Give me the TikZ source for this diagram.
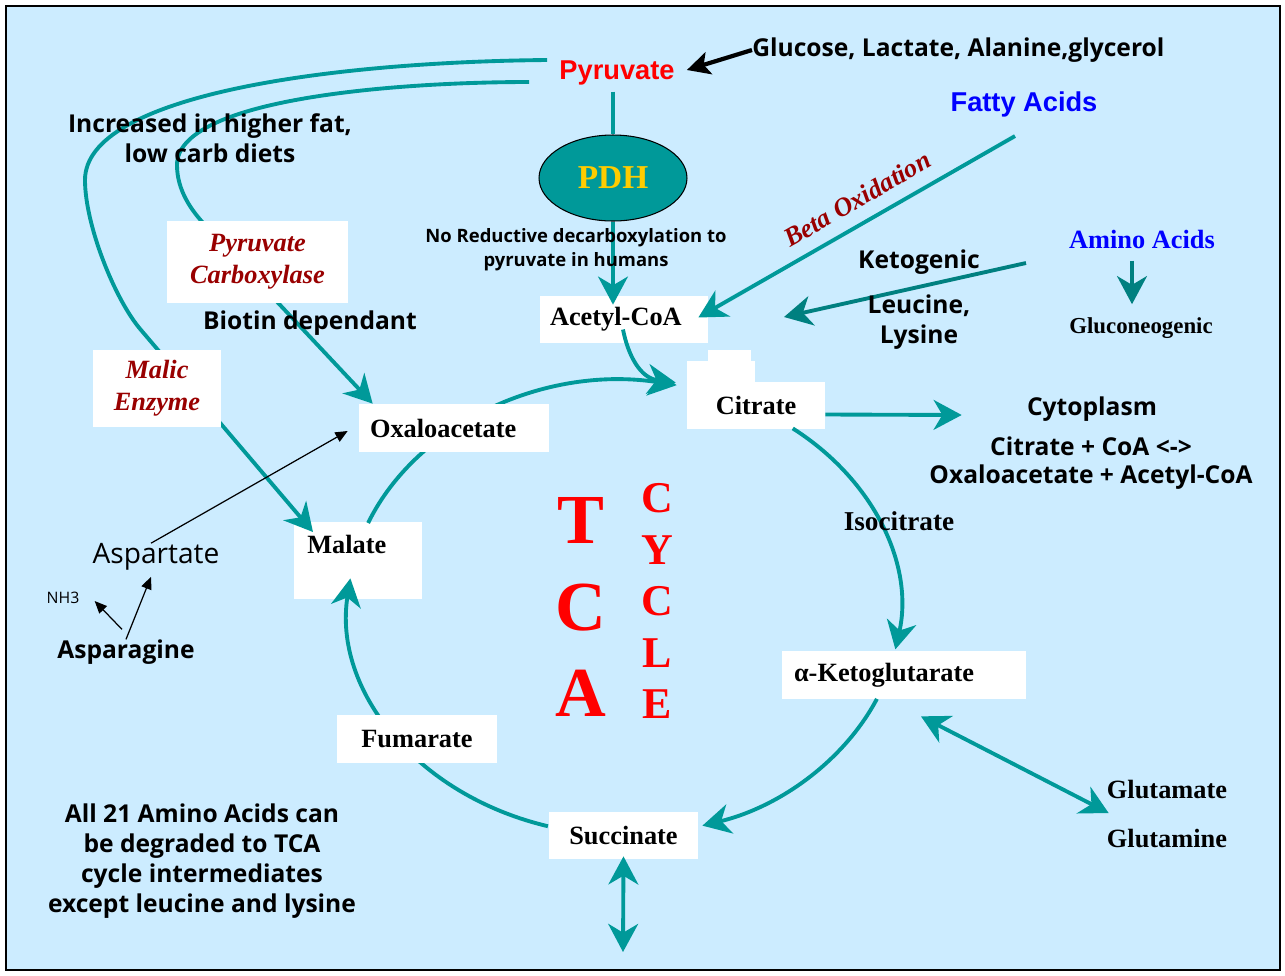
\documentclass[tikz,border=0pt]{standalone}
\usepackage{fontspec}
\setmainfont{Liberation Serif}
\newfontfamily\arialf{Liberation Sans}
\newfontfamily\comicf{Open Sans}
\usetikzlibrary{arrows.meta,shapes.geometric}
\definecolor{bgblue}{HTML}{CCECFF}
\definecolor{tealA}{HTML}{009999}
\definecolor{tealB}{HTML}{008080}
\definecolor{dred}{HTML}{990000}
\definecolor{pdhyel}{HTML}{FFCC00}
\pgfdeclarelayer{bg}
\pgfdeclarelayer{under}
\pgfdeclarelayer{lines}
\pgfsetlayers{bg,under,lines,main}
\tikzset{
  box/.style={fill=white,inner sep=0pt,font=\bfseries\fontsize{15}{18}\selectfont},
  comic/.style={font=\comicf\bfseries\fontsize{14}{17}\selectfont,align=center,inner sep=0pt},
  enz/.style={fill=white,inner sep=0pt,text=dred,align=center,font=\bfseries\itshape\fontsize{15}{18}\selectfont},
  lbl/.style={inner sep=0pt,font=\bfseries\fontsize{15}{18}\selectfont},
  tip/.style={Stealth[length=16pt,width=17pt,inset=5pt]},
  flow/.style={draw=tealA,line width=2.2pt,-{Stealth[length=16pt,width=17pt,inset=5pt]}},
  dflow/.style={draw=tealA,line width=2.2pt,{Stealth[length=16pt,width=17pt,inset=5pt]}-{Stealth[length=16pt,width=17pt,inset=5pt]}},
  thinarr/.style={black,line width=0.7pt,-{Triangle[length=7pt,width=6pt]}},
}
\begin{document}
\begin{tikzpicture}[x=0.02cm,y=-0.02cm]
\useasboundingbox (0,0) rectangle (1285,975);
\begin{pgfonlayer}{bg}
  \fill[bgblue] (6,6) rectangle (1280,970);
  \draw[black,line width=1.4pt] (6,6) rectangle (1280,970);
\end{pgfonlayer}

% boxes lying under the arrows
\begin{pgfonlayer}{under}
  \node[box,text width=2.04cm,inner xsep=0.26cm,inner ysep=8pt,text height=10pt,text depth=17.6pt,align=left,anchor=north west] (malate) at (294,522) {Malate};
  \node[box,text width=2.96cm,inner xsep=0.2cm,minimum height=0.94cm,align=left] (acoa) at (624,319.5) {Acetyl-CoA};
  \node[box,minimum width=2.76cm,minimum height=0.94cm] (citrate) at (756,405.5) {Citrate};
  \fill[white] (citrate.north west) rectangle ++(68,-21);
  \fill[white] (citrate.north west) ++(21,-21) rectangle ++(43,-11);
  \node[box,minimum width=2.98cm,minimum height=0.94cm] (succ) at (623.5,835.5) {Succinate};
  \node[box,text width=4.4cm,inner xsep=0.24cm,minimum height=0.96cm,align=left] (akg) at (904,675) {α-Ketoglutarate};
\end{pgfonlayer}

\node[box,text width=3.36cm,inner xsep=0.22cm,minimum height=0.96cm,align=left] (oaa) at (454,428) {Oxaloacetate};
\node[box,minimum width=3.2cm,minimum height=0.96cm] (fum) at (417,739) {Fumarate};
\node[enz,minimum width=3.62cm,minimum height=1.64cm] (pcarb) at (257.5,262) {Pyruvate\\Carboxylase};
\node[enz,minimum width=2.56cm,minimum height=1.54cm] (malic) at (157,388.5) {Malic\\Enzyme};
\node[ellipse,draw=black,line width=0.6pt,fill=tealA,minimum width=2.96cm,minimum height=1.72cm,
  text=pdhyel,font=\bfseries\fontsize{19}{22}\selectfont] (pdh) at (613,178) {PDH};

\node[inner sep=0pt,text=red,font=\arialf\bfseries\fontsize{15.5}{18}\selectfont] (pyr) at (617,73) {Pyruvate};
\node[comic,anchor=west] (glc) at (752,50) {Glucose, Lactate, Alanine,glycerol};
\node[inner sep=0pt,text=blue,font=\arialf\bfseries\fontsize{15.5}{18}\selectfont] (fa) at (1024,104) {Fatty Acids};
\node[inner sep=0pt,text=dred,rotate=30,font=\bfseries\itshape\fontsize{15}{18}\selectfont] (beta) at (857,199) {Beta Oxidation};
\node[lbl,text=blue] (aa) at (1142,239) {Amino Acids};
\node[lbl,font=\bfseries\fontsize{13}{16}\selectfont] (gluco) at (1141,328) {Gluconeogenic};
\node[comic] (keto) at (919,262) {Ketogenic};
\node[comic] (leulys) at (919,322) {Leucine,\\Lysine};
\node[comic,font=\comicf\bfseries\fontsize{10.5}{13.7}\selectfont] (noreduct) at (576,250) {No Reductive decarboxylation to\\pyruvate in humans};
\node[comic] (incr) at (210,138) {Increased in higher fat,\\low carb diets};
\node[comic] (biotin) at (310,323) {Biotin dependant};
\node[inner sep=0pt,font=\comicf\fontsize{16}{19}\selectfont] (asp) at (156,557) {Aspartate};
\node[inner sep=0pt,font=\comicf\fontsize{9}{11}\selectfont] (nh) at (63,598) {NH3};
\node[comic] (asn) at (126,652) {Asparagine};
\node[comic] (cyto) at (1092,409) {Cytoplasm};
\node[comic,font=\comicf\bfseries\fontsize{14}{16}\selectfont] (eqn) at (1091,463) {Citrate + CoA <->\\Oxaloacetate + Acetyl-CoA};
\node[lbl,font=\bfseries\fontsize{15.5}{18}\selectfont] (iso) at (899,521) {Isocitrate};
\node[inner sep=0pt,text=red,align=center,font=\bfseries\fontsize{40}{49}\selectfont] (tca) at (581,607) {T\\C\\A};
\node[inner sep=0pt,text=red,align=center,font=\bfseries\fontsize{25}{29.3}\selectfont] (cycle) at (657,601) {C\\Y\\C\\L\\E};
\node[lbl] (glu) at (1167,790) {Glutamate};
\node[lbl] (gln) at (1167,839) {Glutamine};
\node[comic] (all21) at (202,861) {All 21 Amino Acids can\\be degraded to TCA\\cycle intermediates\\except leucine and lysine};

\coordinate (cyc) at (624,608);
\coordinate (ketofrom) at (1026,263);
\coordinate (ketoto) at (784,317);
\coordinate (succout) at (623,952);

\begin{pgfonlayer}{lines}
  \draw[black,line width=2.4pt,-{Stealth[length=13pt,width=13pt,inset=3pt]}] (glc.west) -- ([shift={(12,-3)}]pyr.east);
  \draw[tealA,line width=2.2pt] ([shift={(-4,6)}]pyr.south) -- (pdh.north);
  \draw[flow,shorten >=-0.18cm] (pdh.south) -- (pdh.south |- acoa.north);
  \draw[flow] ([shift={(-9,19)}]fa.south) -- ([shift={(-10,-2)}]acoa.east);
  \draw[flow,draw=tealB] (ketofrom) -- (ketoto);
  \draw[flow,draw=tealB] ([shift={(-10,12)}]aa.south) -- ([shift={(-9,-13)}]gluco.north);
  \draw[flow] ([shift={(-1,10)}]acoa.center) .. controls (628,355) and (640,378) .. ([shift={(-11,-23)}]citrate.west);
  % the cycle
  \draw[flow] ([shift={(202:276 and 227)}]cyc) arc[start angle=202,end angle=281,x radius=276,y radius=227];
  \draw[flow] ([shift={(307.7:276 and 227)}]cyc) arc[start angle=307.7,end angle=370.5,x radius=276,y radius=227];
  \draw[flow] ([shift={(23.6:276 and 227)}]cyc) arc[start angle=23.6,end angle=73.5,x radius=276,y radius=227];
  \draw[flow] ([shift={(106:276 and 227)}]cyc) arc[start angle=106,end angle=187.5,x radius=276,y radius=227];
  % anaplerotic routes
  \draw[flow] ([shift={(-12,-13)}]pyr.west) .. controls (330,62) and (85,95) .. (85,180)
    .. controls (85,225) and (115,300) .. (141,330) -- ([shift={(19,10)}]malate.north west);
  \draw[flow] ([shift={(-30,9)}]pyr.west) .. controls (400,82) and (177,98) .. (177,165)
    .. controls (177,190) and (191,210) .. (205,225) -- ([shift={(14,0)}]oaa.north west);
  \draw[thinarr] ([shift={(-5,0)}]asp.north) -- ([shift={(-11,3)}]oaa.west);
  \draw[thinarr] (asn.north) -- ([shift={(-5,6)}]asp.south);
  \draw[thinarr] ([shift={(-4,-10)}]asn.north) -- ([shift={(15,3)}]nh.east);
  \draw[flow] ([shift={(0,9)}]citrate.east) -- ([shift={(-65,6)}]cyto.west);
  \draw[dflow] ([shift={(17,17)}]akg.south) -- ([shift={(2,23)}]glu.west);
  \draw[dflow] ([shift={(0,-3)}]succ.south) -- (succout);
\end{pgfonlayer}
\end{tikzpicture}
\end{document}
